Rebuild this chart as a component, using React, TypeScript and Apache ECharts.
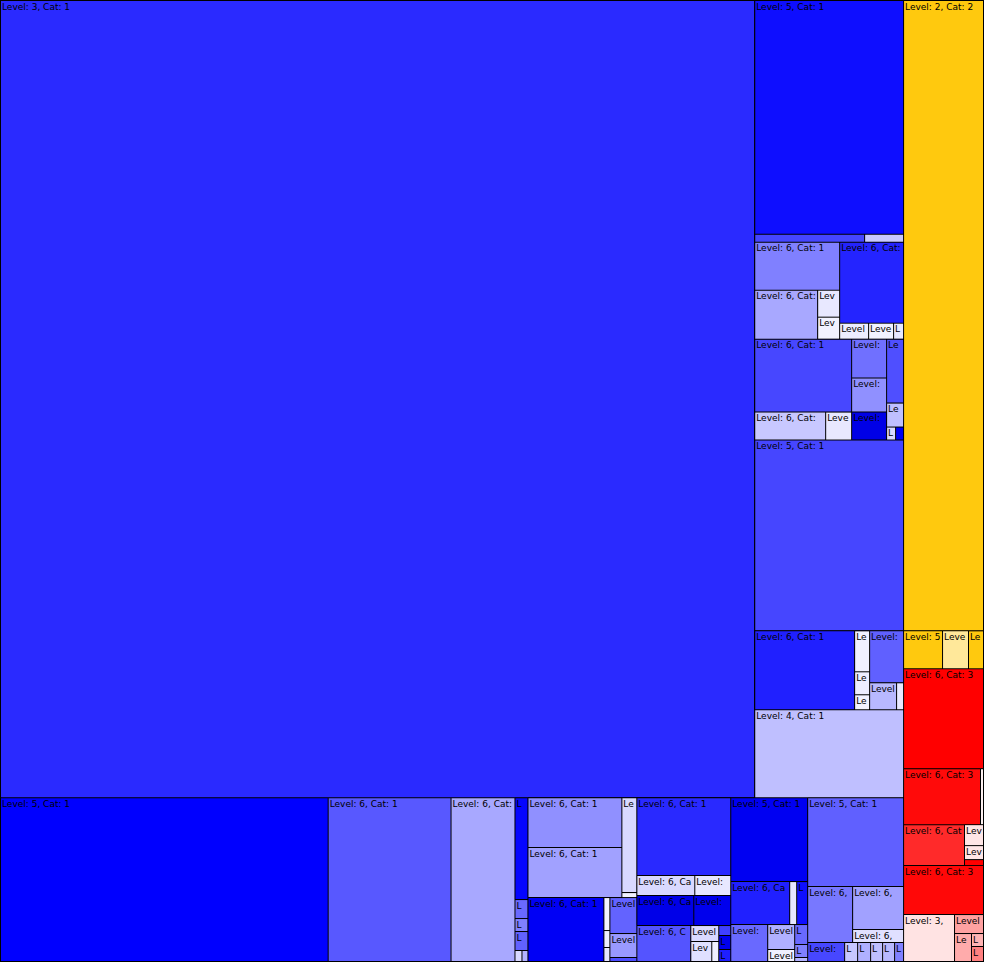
import React, { useEffect, useRef } from "react";
import * as echarts from "echarts";

// Leaf: [level, category, value (area share), shade]; nested arrays are groups.
type Leaf = [number, number, number, number];
type Branch = Array<Leaf | Branch>;

const categoryBaseColors = ["#0000ff", "#ffc90e", "#ff0000"];

// ---------- Category 1: upper block ----------
const cat1Main: Leaf = [3, 1, 602490, 0.165];

const cat1ColumnTop: Branch = [
  [5, 1, 34866, 0.055],
  [[6, 1, 880, 0.275], [6, 1, 312, 0.785]],
];

const cat1ColumnA: Branch = [
  [[6, 1, 4080, 0.5], [[6, 1, 3087, 0.66], [[6, 1, 594, 0.91], [6, 1, 484, 0.95]]]],
  [[6, 1, 5184, 0.14], [[6, 1, 464, 0.93], [6, 1, 400, 0.95], [6, 1, 160, 0.91]]],
];

const cat1ColumnB: Branch = [
  [
    [[6, 1, 7081, 0.28], [[6, 1, 1988, 0.785], [6, 1, 728, 0.91]]],
    [[6, 1, 1365, 0.44], [6, 1, 1190, 0.565], [6, 1, 980, -0.1]],
  ],
  [[6, 1, 1088, 0.31], [6, 1, 408, 0.75], [[6, 1, 117, 0.85], [6, 1, 104, -0.05]]],
];

const cat1ColumnLower: Branch = [
  [
    [5, 1, 28459, 0.275],
    [
      [[6, 1, 7900, 0.125], [[6, 1, 615, 0.94], [6, 1, 345, 0.93], [6, 1, 225, 0.95]]],
      [[6, 1, 1768, 0.375], [[6, 1, 729, 0.72], [6, 1, 189, 0.91]]],
    ],
  ],
  [4, 1, 13112, 0.75],
];

// ---------- Category 1: bottom strip ----------
const cat1Bottom4: Branch = [
  [6, 1, 1326, 0.02],
  [6, 1, 247, 0.41],
  [6, 1, 169, 0.5],
  [6, 1, 247, 0.38],
  [[6, 1, 77, 0.85], [6, 1, 66, 0.7]],
];

const cat1Bottom5: Branch = [
  [
    [[6, 1, 4700, 0.565], [6, 1, 4700, 0.63]],
    [[6, 1, 1425, 0.85], [6, 1, 75, 0.95]],
  ],
  [
    [[6, 1, 4864, -0.04], [[6, 1, 198, 0.95], [6, 1, 102, 0.93], [6, 1, 84, 0.9]]],
    [[6, 1, 972, 0.39], [6, 1, 648, 0.6], [6, 1, 108, 0.3]],
  ],
];

const cat1Bottom6: Branch = [
  [
    [[6, 1, 7332, 0.16], [[6, 1, 1160, 0.85], [6, 1, 720, 0.91]]],
    [[6, 1, 1710, -0.09], [6, 1, 1110, -0.07]],
  ],
  [
    [6, 1, 1944, 0.33],
    [[6, 1, 448, 0.85], [[6, 1, 420, 0.88], [6, 1, 140, 0.94]]],
    [[6, 1, 120, 0.25], [6, 1, 168, -0.07], [6, 1, 144, 0.12]],
  ],
];

const cat1Bottom7: Branch = [
  [5, 1, 6468, -0.05],
  [[[6, 1, 2537, 0.125], [6, 1, 301, 0.9]], [6, 1, 473, 0.06]],
  [
    [6, 1, 1369, 0.41],
    [[6, 1, 675, 0.69], [6, 1, 324, 0.94]],
    [[6, 1, 260, 0.41], [6, 1, 169, 0.5], [6, 1, 52, 0.7]],
  ],
];

const cat1Bottom8: Branch = [
  [
    [5, 1, 8544, 0.375],
    [[6, 1, 2520, 0.47], [[6, 1, 2193, 0.63], [6, 1, 663, 0.88]]],
  ],
  [[6, 1, 703, 0.28], [6, 1, 247, 0.78], [6, 1, 247, 0.69], [6, 1, 228, 0.75], [6, 1, 228, 0.72], [6, 1, 171, 0.5]],
];

const cat1Bottom: Branch = [
  [5, 1, 53792, 0],
  [6, 1, 20172, 0.345],
  [6, 1, 10496, 0.66],
  cat1Bottom4,
  [cat1Bottom5, [cat1Bottom6, cat1Bottom7, cat1Bottom8]],
];

// ---------- Category 2 ----------
const cat2Nodes: Branch = [
  [2, 2, 50480, 0],
  [[5, 2, 1482, 0], [6, 2, 988, 0.58], [6, 2, 570, 0]],
];

// ---------- Category 3 ----------
const cat3Nodes: Branch = [
  [6, 3, 8000, 0],
  [[6, 3, 4312, 0.04], [6, 3, 168, 0.95]],
  [[6, 3, 2501, 0.165], [[6, 3, 399, 0.9], [6, 3, 266, 0.9], [6, 3, 114, 0]]],
  [6, 3, 3920, 0.03],
  [[3, 3, 2397, 0.89], [[6, 3, 551, 0.63], [[6, 3, 476, 0.67], [[6, 3, 156, 0.7], [6, 3, 180, 0.5]]]]],
];

const cat1Nodes: Branch = [
  [cat1Main, [[cat1ColumnTop, cat1ColumnA], [cat1ColumnB, cat1ColumnLower]]],
  cat1Bottom,
];

const rootNodes: Branch = [cat1Nodes, cat2Nodes, cat3Nodes];

function shadeColor(cat: number, s: number): string {
  const hex = categoryBaseColors[cat - 1];
  const rgb = [1, 3, 5].map((i) => parseInt(hex.slice(i, i + 2), 16));
  const out = rgb.map((c) => Math.round(s >= 0 ? c + (255 - c) * s : c * (1 + s)));
  return `rgb(${out[0]},${out[1]},${out[2]})`;
}

let groupId = 0;
function toNode(n: any): any {
  if (typeof n[0] === "number") {
    const [level, cat, value, shade] = n as Leaf;
    return {
      name: `Level: ${level}, Cat: ${cat}`,
      value,
      itemStyle: { color: shadeColor(cat, shade) },
    };
  }
  groupId += 1;
  return {
    name: "group" + groupId,
    children: (n as Branch).map(toNode),
    itemStyle: { borderWidth: 0, gapWidth: 0 },
  };
}

export default function App() {
  const ref = useRef<HTMLDivElement>(null);
  useEffect(() => {
    document.body.style.margin = "0";
    document.body.style.overflow = "hidden";
    if (!ref.current) return;
    const chart = echarts.init(ref.current, undefined, { renderer: "svg" });
    groupId = 0;
    chart.setOption({
      animation: false,
      series: [
        {
          type: "treemap",
          left: 0,
          top: 0,
          width: 984,
          height: 962,
          sort: false,
          squareRatio: 1,
          roam: false,
          nodeClick: false,
          breadcrumb: { show: false },
          visibleMin: 0,
          itemStyle: { borderColor: "#000", borderWidth: 0.5, gapWidth: 0 },
          label: {
            show: true,
            position: "insideTopLeft",
            distance: 0,
            padding: [1, 0, 0, 1],
            color: "#000",
            fontFamily: "DejaVu Sans",
            fontSize: 9,
            lineHeight: 9,
            overflow: "truncate",
            ellipsis: "",
          },
          upperLabel: { show: false },
          emphasis: { disabled: true },
          data: rootNodes.map(toNode),
        },
      ],
    });
    return () => chart.dispose();
  }, []);
  return <div ref={ref} style={{ width: 984, height: 962 }} />;
}
